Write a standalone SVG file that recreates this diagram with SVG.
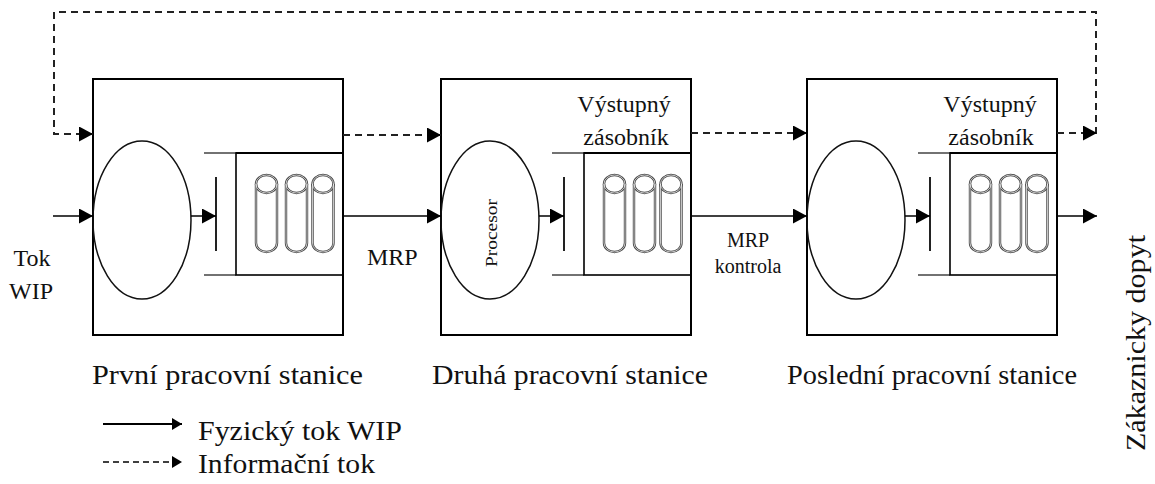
<svg xmlns="http://www.w3.org/2000/svg" width="1155" height="484" viewBox="0 0 1155 484">
<defs>
<marker id="ah" markerUnits="userSpaceOnUse" markerWidth="14" markerHeight="15" refX="14" refY="7.5" orient="auto">
<path d="M0,0 L14,7.5 L0,15 z" fill="#000"/>
</marker>
<marker id="ahs" markerUnits="userSpaceOnUse" markerWidth="10" markerHeight="12" refX="10" refY="6" orient="auto">
<path d="M0,0 L10,6 L0,12 z" fill="#000"/>
</marker>
<g id="cylinder" fill="none">
<path stroke="#444" stroke-width="2.4" d="M-10.5,184 L-10.5,243 A10.5,9 0 0 0 10.5,243 L10.5,184"/>
<ellipse stroke="#444" stroke-width="2.4" cx="0" cy="184" rx="10.5" ry="9"/>
<path stroke="#fff" stroke-width="0.7" d="M-10.5,184 L-10.5,243 A10.5,9 0 0 0 10.5,243 L10.5,184"/>
<ellipse stroke="#fff" stroke-width="0.7" cx="0" cy="184" rx="10.5" ry="9"/>
</g>
<g id="station" fill="none">
<rect stroke="#000" stroke-width="2" x="0" y="79" width="250" height="256"/>
<ellipse stroke="#111" stroke-width="1.5" cx="49" cy="220" rx="49" ry="79"/>
<line stroke="#222" stroke-width="2" x1="123" y1="177" x2="123" y2="251"/>
<path stroke="#444" stroke-width="1.6" d="M111,153 L143,153 M111,275 L143,275"/>
<rect stroke="#000" stroke-width="1.6" x="143" y="153" width="107" height="122"/>
<line x1="143" y1="153" x2="250" y2="153" stroke="#000" stroke-width="2.2"/>
<use href="#cylinder" x="173.5"/>
<use href="#cylinder" x="203.5"/>
<use href="#cylinder" x="230"/>
<line stroke="#000" stroke-width="1.5" marker-end="url(#ah)" x1="98" y1="216" x2="123" y2="216"/>
</g>
</defs>

<g id="station1">
<use href="#station" x="93"/>
</g>
<g id="station2" font-family="Times New Roman, serif">
<use href="#station" x="441"/>
<text font-family="Times New Roman, serif" font-size="24" fill="#111" x="624" y="112" text-anchor="middle">Výstupný</text>
<text font-family="Times New Roman, serif" font-size="24" fill="#111" x="626" y="145" text-anchor="middle">zásobník</text>
<text font-family="Times New Roman, serif" font-size="17" fill="#111" transform="translate(497,233) rotate(-90)" text-anchor="middle" textLength="68" lengthAdjust="spacingAndGlyphs">Procesor</text>
</g>
<g id="station3" font-family="Times New Roman, serif">
<use href="#station" x="807"/>
<text font-family="Times New Roman, serif" font-size="24" fill="#111" x="990" y="112" text-anchor="middle">Výstupný</text>
<text font-family="Times New Roman, serif" font-size="24" fill="#111" x="991" y="145" text-anchor="middle">zásobník</text>
</g>

<g id="connectors" fill="none">
<line stroke="#000" stroke-width="1.5" marker-end="url(#ah)" x1="53" y1="216" x2="93" y2="216"/>
<line stroke="#000" stroke-width="1.5" marker-end="url(#ah)" x1="343" y1="216" x2="441" y2="216"/>
<line stroke="#000" stroke-width="1.5" marker-end="url(#ah)" x1="691" y1="216" x2="807" y2="216"/>
<line stroke="#000" stroke-width="1.5" marker-end="url(#ah)" x1="1057" y1="216" x2="1097" y2="216"/>
<polyline stroke="#222" stroke-width="2" stroke-dasharray="7 5" marker-end="url(#ah)" points="1096,134 1096,12 54,12 54,134 93,134"/>
<line stroke="#222" stroke-width="2" stroke-dasharray="7 5" marker-end="url(#ah)" x1="343" y1="135" x2="441" y2="135"/>
<line stroke="#222" stroke-width="2" stroke-dasharray="7 5" marker-end="url(#ah)" x1="691" y1="133" x2="807" y2="133"/>
<line stroke="#222" stroke-width="2" stroke-dasharray="7 5" marker-end="url(#ah)" x1="1057" y1="133" x2="1097" y2="133"/>
</g>

<g id="labels" font-family="Times New Roman, serif">
<text font-family="Times New Roman, serif" font-size="24" fill="#111" x="32" y="266" text-anchor="middle">Tok</text>
<text font-family="Times New Roman, serif" font-size="24" fill="#111" x="31" y="299" text-anchor="middle">WIP</text>
<text font-family="Times New Roman, serif" font-size="24" fill="#111" x="367" y="265">MRP</text>
<text font-family="Times New Roman, serif" font-size="20" fill="#111" x="748" y="247" text-anchor="middle">MRP</text>
<text font-family="Times New Roman, serif" font-size="20" fill="#111" x="748" y="273" text-anchor="middle">kontrola</text>
<text font-family="Times New Roman, serif" font-size="27" fill="#111" x="92" y="384" textLength="271" lengthAdjust="spacingAndGlyphs">První pracovní stanice</text>
<text font-family="Times New Roman, serif" font-size="27" fill="#111" x="432" y="384" textLength="276" lengthAdjust="spacingAndGlyphs">Druhá pracovní stanice</text>
<text font-family="Times New Roman, serif" font-size="27" fill="#111" x="787" y="384" textLength="290" lengthAdjust="spacingAndGlyphs">Poslední pracovní stanice</text>
<text font-family="Times New Roman, serif" font-size="27" fill="#111" transform="translate(1145,343) rotate(-90)" text-anchor="middle" textLength="216" lengthAdjust="spacingAndGlyphs">Zákaznicky dopyt</text>
</g>

<g id="legend" fill="none" font-family="Times New Roman, serif">
<line stroke="#000" stroke-width="1.8" marker-end="url(#ahs)" x1="103" y1="424" x2="182" y2="424"/>
<line stroke="#000" stroke-width="1.6" stroke-dasharray="6 4" marker-end="url(#ahs)" x1="103" y1="462" x2="182" y2="462"/>
<text font-family="Times New Roman, serif" font-size="27" fill="#111" x="198" y="440" textLength="204" lengthAdjust="spacingAndGlyphs">Fyzický tok WIP</text>
<text font-family="Times New Roman, serif" font-size="27" fill="#111" x="198" y="473" textLength="177" lengthAdjust="spacingAndGlyphs">Informační tok</text>
</g>
</svg>
